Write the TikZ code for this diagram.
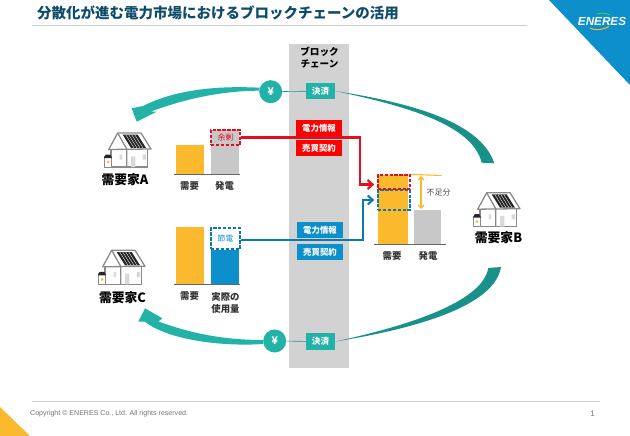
\documentclass[tikz,border=0pt]{standalone}
\usepackage{fontspec}
\setmainfont{Noto Sans CJK JP}
\newfontfamily\latinfont{Liberation Sans}
\usetikzlibrary{arrows.meta,positioning,calc}
\definecolor{barY}{HTML}{FBBA2E}
\definecolor{barG}{HTML}{C8C8C8}
\definecolor{colG}{HTML}{D2D2D2}
\definecolor{infoR}{HTML}{FF0000}
\definecolor{lineR}{HTML}{E2101E}
\definecolor{infoB}{HTML}{0C8FCB}
\definecolor{tealL}{HTML}{22B2A8}
\definecolor{tealD}{HTML}{17918A}
\definecolor{titleC}{HTML}{0F4C6B}
\definecolor{wallC}{HTML}{8A8A8A}
\tikzset{
 house/.pic={
  \fill[black!85] (5,1.7) -- (20,1.7) -- (28.3,15) -- (13.3,15) -- cycle;
  \foreach \i in {1,...,4} \draw[white,line width=.35pt] (5+3*\i,1.7) -- (13.3+3*\i,15);
  \draw[wallC,line width=1.3pt,line join=round] (-9,16.5) -- (0,0) -- (23.3,0) -- (33.3,16) -- cycle;
  \draw[wallC,line width=1.3pt] (0,0) -- (9,16) -- (9,34);
  \draw[wallC,line width=1.1pt] (-6.7,16) -- (-6.7,34) -- (30,34) -- (30,16);
  \fill[black!15] (1.8,21.7) rectangle (4.3,26.7) (13.3,23.3) rectangle (17.6,34) (25,21.7) rectangle (28.3,26.7);
  \fill[white] (-13.4,23.3) rectangle (-6,34);
  \draw[wallC,line width=.8pt] (-13.4,23.3) rectangle (-6,34);
  \fill[black!85] (-13.8,25) -- (-12,21.5) -- (-7.4,21.5) -- (-5.6,25) -- cycle;
  \fill[barY] (-9.7,29) circle (1.5);
 },
 who/.style={font=\bfseries\fontsize{12.8}{15}\selectfont},
 lab/.style={font=\bfseries\fontsize{9.4}{11.8}\selectfont,text=black!80},
 bar/.style={minimum width=28pt,inner sep=0pt,outer sep=0pt,anchor=south},
 infobox/.style={minimum width=46pt,minimum height=16.5pt,inner sep=0pt,text=white,font=\bfseries\fontsize{8.4}{9}\selectfont},
 paybox/.style={fill=tealL,minimum width=29pt,minimum height=16.5pt,inner sep=0pt,text=white,font=\bfseries\fontsize{8.6}{9}\selectfont},
 yen/.style={circle,fill=tealL,minimum size=23pt,inner sep=0pt,text=white,font=\bfseries\fontsize{10.5}{12}\selectfont},
 dashR/.style={draw=lineR,dashed,dash pattern=on 3.4pt off 1.5pt,line width=1.7pt,inner sep=0pt},
 dashB/.style={draw=infoB!85!black,dashed,dash pattern=on 3.4pt off 1.5pt,line width=1.5pt,inner sep=0pt},
}
\begin{document}
\begin{tikzpicture}[x=1pt,y=-1pt,>={Straight Barb[length=5pt,width=9pt]}]
\useasboundingbox (0,0) rectangle (630,436);
\fill[infoB] (549,0) -- (630,0) -- (630,85) -- cycle;
\fill[barY] (0,407) -- (30,436) -- (0,436) -- cycle;
\draw[black!20,line width=.8pt] (32,25) -- (527,25);
\draw[black!20,line width=.8pt] (32,401) -- (600,401);
\node[anchor=west,inner sep=0pt,text=titleC,font=\bfseries\fontsize{14.5}{16}\selectfont] (title) at (37,12.5) {分散化が進む電力市場におけるブロックチェーンの活用};
\node[text=white,inner sep=0pt,font=\latinfont\bfseries\itshape\fontsize{11.7}{12}\selectfont] (logo) at (602,21) {ENERES};
\draw[barY,line width=1pt] (590,28) .. controls (595,31) and (603,30) .. (609,26.5);
\draw[green!60!barY,line width=.6pt] (597,14) .. controls (601,12.5) and (606,13) .. (610,15);
\node[anchor=west,inner sep=0pt,text=black!55,font=\latinfont\fontsize{7.05}{8}\selectfont] (copy) at (30,413.5) {Copyright © ENERES Co., Ltd. All rights reserved.};
\node[inner sep=0pt,text=black!55,font=\latinfont\fontsize{8}{9}\selectfont] (page) at (592.5,414) {1};

\fill[colG] (289,44) rectangle (349,368);
\node[align=center,inner sep=0pt,font=\bfseries\fontsize{9.6}{12}\selectfont] (chain) at (319.5,57.5) {ブロック\\チェーン};

\node[paybox] (payU) at (320.5,91) {決済};
\node[paybox] (payL) at (320.5,341.5) {決済};
\node[yen] (yenU) at (270.7,91.7) {¥};
\node[yen] (yenL) at (274.7,341) {¥};
\draw[tealD!80!tealL,line width=.6pt] (yenU) -- (payU);
\draw[tealD!80!tealL,line width=.6pt] (yenL) -- (payL);
\fill[tealL] (yenU.160) .. controls (215,85.5) and (175,90) .. (143,106) -- (131.7,108.3) -- (136.7,121.7) -- (156.7,111.7) -- (151,111.5) .. controls (185,99) and (220,91) .. (yenU.175);
\fill[tealL] (yenL.175) .. controls (222,340) and (190,333) .. (158.5,321.5) -- (162.3,318.3) -- (145,308.3) -- (138.3,321.7) -- (145,321.7) .. controls (165,338) and (215,347) .. (yenL.195);
\fill[tealD] (payU.east) .. controls (405,102) and (480,120) .. (494.3,163.3) -- (481.7,162.7) .. controls (472,124) and (405,106) .. (payU.east);
\fill[tealD] (payL.east) .. controls (420,328) and (495,305) .. (501,267) -- (488.3,268) .. controls (483,299) and (421,323) .. (payL.east);

\node[infobox,fill=infoR] (infoA) at (319,128) {電力情報};
\node[infobox,fill=infoR] (dealA) at (319,148) {売買契約};
\node[infobox,fill=infoB] (infoC) at (320,230) {電力情報};
\node[infobox,fill=infoB] (dealC) at (320,252) {売買契約};

\pic at (117.7,133) {house};
\pic at (111.7,250.3) {house};
\pic at (486.7,192.7) {house};
\node[who] (custA) at (125,180) {需要家A};
\node[who] (custC) at (122.5,298) {需要家C};
\node[who] (custB) at (498.5,238) {需要家B};

\node[bar,fill=barY,minimum height=29.5pt] (needA) at (190,174.5) {};
\node[bar,fill=barG,minimum height=44pt] (genA) at (225,174.5) {};
\draw[black!60,line width=.8pt] (174,174.5) -- (240,174.5);
\node[lab] (needAt) at (189.5,186) {需要};
\node[lab] (genAt) at (224.5,186) {発電};
\node[dashR,minimum width=29pt,minimum height=15.5pt,text=lineR,font=\fontsize{7.8}{8}\selectfont] (surplus) at (225.5,137.5) {余剰};

\node[bar,fill=barY,minimum height=57.7pt] (needC) at (190,284.7) {};
\node[bar,fill=infoB,minimum height=35pt] (useC) at (225,284.7) {};
\draw[black!60,line width=.8pt] (174,284.7) -- (240,284.7);
\node[lab] (needCt) at (189.5,296) {需要};
\node[lab,align=left] (useCt) at (225.5,303) {実際の\\使用量};
\node[dashB,fill=white,minimum width=29pt,minimum height=21pt,text=infoB,font=\fontsize{7.8}{8}\selectfont] (saved) at (225.5,238.5) {節電};

\node[bar,fill=barY,minimum width=30pt,minimum height=69pt] (needB) at (393,244) {};
\node[bar,fill=barG,minimum width=27pt,minimum height=34pt] (genB) at (427.5,244) {};
\draw[black!60,line width=.8pt] (374,244) -- (446,244);
\node[lab] (needBt) at (392,256) {需要};
\node[lab] (genBt) at (428,256) {発電};
\node[dashB,minimum width=32pt,minimum height=20pt] (shortB) at (394,200) {};
\node[dashR,minimum width=32pt,minimum height=14.6pt] (shortR) at (394,182) {};
\draw[barY,line width=1.1pt] (shortR.north east) ++(0,.5) -- (441.7,175.5);
\coordinate (gapT) at (421,176);
\coordinate (gapB) at (421,209);
\draw[<->,barY,line width=1.3pt,>={Straight Barb[length=3pt,width=6pt]}] (gapT) -- (gapB);
\node[text=black!70,inner sep=0pt,font=\fontsize{8}{9}\selectfont] (lack) at (438.5,192.7) {不足分};

\coordinate (turnR) at (360,184.5);
\coordinate (turnB) at (363,200);
\draw[->,lineR,line width=2.2pt,shorten >=3pt] (surplus.east) -| (turnR) -- ([yshift=-2.5pt]shortR.west);
\draw[->,infoB!85!black,line width=2pt,shorten >=3pt] (saved.east) ++(0,1.8) -| (turnB) -- (shortB.west);
\end{tikzpicture}
\end{document}
